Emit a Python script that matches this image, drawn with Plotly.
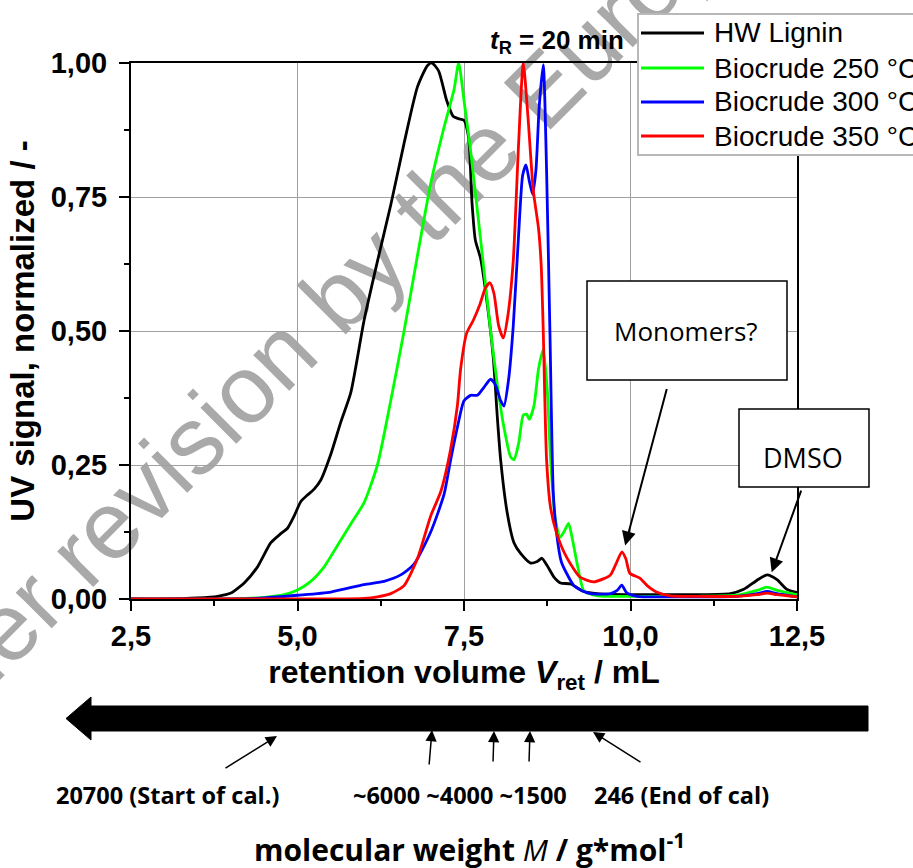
import plotly.graph_objects as go

# ---- GPC traces: retention volume (mL) vs. normalised UV signal ----
lignin_v = [2.5, 3.0, 3.5, 3.8, 4.0, 4.2, 4.4, 4.6, 4.75, 4.85, 4.95, 5.05, 5.15, 5.25, 5.35, 5.5,
            5.65, 5.8, 6.0, 6.2, 6.4, 6.6, 6.8, 6.95, 7.02, 7.12, 7.24, 7.34, 7.42, 7.5, 7.57, 7.62,
            7.67, 7.75, 7.85, 7.94, 8.0, 8.05, 8.15, 8.25, 8.35, 8.5, 8.6, 8.67, 8.75, 8.85, 8.95,
            9.1, 9.3, 9.5, 10.0, 10.5, 11.0, 11.5, 11.7, 11.9, 12.05, 12.2, 12.35, 12.5]
lignin_s = [0.0, 0.0, 0.002, 0.005, 0.011, 0.03, 0.06, 0.105, 0.122, 0.132, 0.155, 0.182, 0.194,
            0.205, 0.222, 0.27, 0.33, 0.385, 0.52, 0.63, 0.735, 0.85, 0.955, 0.995, 1.0, 0.985,
            0.93, 0.9, 0.896, 0.893, 0.86, 0.74, 0.67, 0.635, 0.55, 0.45, 0.34, 0.26, 0.16, 0.105,
            0.085, 0.067, 0.07, 0.076, 0.062, 0.041, 0.03, 0.028, 0.014, 0.01, 0.008, 0.008, 0.008,
            0.01, 0.018, 0.035, 0.045, 0.036, 0.018, 0.012]

bc250_v = [2.5, 4.0, 4.5, 4.8, 5.0, 5.2, 5.4, 5.6, 5.8, 6.0, 6.2, 6.4, 6.6, 6.8, 7.0, 7.2, 7.35,
           7.42, 7.5, 7.6, 7.75, 7.9, 8.0, 8.1, 8.2, 8.25, 8.32, 8.39, 8.44, 8.48, 8.55, 8.62, 8.69,
           8.75, 8.8, 8.87, 8.94, 9.0, 9.07, 9.13, 9.2, 9.3, 9.45, 9.6, 10.0, 11.0, 11.6, 11.9,
           12.05, 12.2, 12.5]
bc250_s = [0.0, 0.0, 0.003, 0.008, 0.017, 0.033, 0.06, 0.1, 0.14, 0.18, 0.25, 0.37, 0.5, 0.64,
           0.775, 0.88, 0.95, 1.0, 0.93, 0.835, 0.67, 0.5, 0.4, 0.32, 0.265, 0.26, 0.29, 0.343,
           0.345, 0.335, 0.36, 0.43, 0.465, 0.39, 0.26, 0.15, 0.115, 0.125, 0.141, 0.11, 0.065,
           0.015, 0.007, 0.005, 0.005, 0.005, 0.007, 0.016, 0.022, 0.016, 0.008]

bc300_v = [2.5, 4.0, 4.5, 5.0, 5.5, 6.0, 6.3, 6.55, 6.75, 7.0, 7.2, 7.3, 7.4, 7.5, 7.6, 7.7, 7.8,
           7.9, 7.97, 8.05, 8.1, 8.17, 8.24, 8.32, 8.38, 8.43, 8.48, 8.53, 8.58, 8.63, 8.69, 8.74,
           8.79, 8.84, 8.89, 8.96, 9.04, 9.15, 9.25, 9.4, 9.7, 9.8, 9.87, 9.94, 10.1, 10.5, 11.0,
           11.6, 11.9, 12.05, 12.2, 12.5]
bc300_s = [0.0, 0.0, 0.002, 0.007, 0.013, 0.027, 0.033, 0.045, 0.065, 0.125, 0.195, 0.26, 0.32,
           0.37, 0.38, 0.38, 0.395, 0.41, 0.4, 0.37, 0.36, 0.41, 0.51, 0.68, 0.79, 0.81, 0.78,
           0.755, 0.8, 0.92, 0.997, 0.8, 0.5, 0.2, 0.123, 0.07, 0.048, 0.025, 0.017, 0.01, 0.01,
           0.016, 0.026, 0.012, 0.005, 0.004, 0.004, 0.005, 0.01, 0.014, 0.01, 0.004]

bc350_v = [2.5, 5.5, 6.0, 6.2, 6.4, 6.6, 6.8, 7.0, 7.15, 7.3, 7.4, 7.45, 7.54, 7.64, 7.74, 7.82,
           7.89, 7.95, 8.02, 8.09, 8.16, 8.24, 8.32, 8.39, 8.46, 8.54, 8.62, 8.66, 8.69, 8.74, 8.8,
           8.89, 9.04, 9.24, 9.44, 9.6, 9.7, 9.78, 9.87, 9.93, 9.99, 10.14, 10.25, 10.39, 10.6,
           11.0, 11.6, 11.9, 12.05, 12.2, 12.5]
bc350_s = [0.0, 0.0, 0.001, 0.004, 0.01, 0.025, 0.075, 0.155, 0.2, 0.28, 0.36, 0.43, 0.496, 0.52,
           0.55, 0.58, 0.59, 0.57, 0.51, 0.487, 0.53, 0.632, 0.85, 1.0, 0.9, 0.763, 0.69, 0.62,
           0.5, 0.26, 0.17, 0.123, 0.078, 0.041, 0.032, 0.038, 0.045, 0.065, 0.088, 0.075, 0.048,
           0.039, 0.025, 0.013, 0.006, 0.005, 0.005, 0.008, 0.011, 0.008, 0.004]

series_names = ["HW Lignin", "Biocrude 250 °C", "Biocrude 300 °C", "Biocrude 350 °C"]
series_colors = ["#000000", "#00ff00", "#0000ff", "#ff0000"]
series_data = [(lignin_v, lignin_s), (bc250_v, bc250_s), (bc300_v, bc300_s), (bc350_v, bc350_s)]

# calibration markers on the molecular-weight scale below the chart
calibration_labels = ["20700 (Start of cal.)", "~6000 ~4000 ~1500", "246 (End of cal)"]

# ---- figure geometry (pixels) ----
W, H = 913, 868
L, R, T, B = 131, 797, 63, 599


def px(x):
    return (x - L) / (R - L)


def py(y):
    return (B - y) / (B - T)


AX_FONT = "Liberation Sans, Arial, sans-serif"
UI_FONT = "Open Sans, Noto Sans, sans-serif"

fig = go.Figure()
for name, (xv, yv), col in zip(series_names, series_data, series_colors):
    fig.add_trace(go.Scatter(x=xv, y=yv, mode="lines", name=name, showlegend=False,
                             line=dict(color=col, width=2.8, shape="spline", smoothing=0.6)))

axis_common = dict(
    showline=True, linewidth=2, linecolor="black", mirror=True,
    ticks="outside", ticklen=10, tickwidth=2, tickcolor="black",
    showgrid=True, gridcolor="#a0a0a0", gridwidth=1, zeroline=False,
    tickfont=dict(family=AX_FONT, size=29, color="black", weight="bold"),
)

fig.update_layout(
    width=W, height=H, autosize=False,
    margin=dict(l=L, r=W - R, t=T, b=H - B, pad=0),
    paper_bgcolor="white", plot_bgcolor="white",
    separators=",.",
    font=dict(family=AX_FONT, color="black"),
    xaxis=dict(range=[2.5, 12.5], tick0=2.5, dtick=2.5, tickformat=".1f",
               minor=dict(ticks="outside", ticklen=5, tickwidth=2, tickcolor="black",
                          tick0=2.5, dtick=1.25, showgrid=False),
               title=dict(text="retention volume <i>V</i><sub>ret</sub> / mL", standoff=10,
                          font=dict(family=AX_FONT, size=32, color="black", weight="bold")),
               **axis_common),
    yaxis=dict(range=[0, 1.0], tick0=0, dtick=0.25, tickformat=".2f", ticklabelstandoff=6,
               minor=dict(ticks="outside", ticklen=5, tickwidth=2, tickcolor="black",
                          tick0=0, dtick=0.125, showgrid=False),
               title=dict(text="UV signal, normalized / -", standoff=6,
                          font=dict(family=AX_FONT, size=33, color="black", weight="bold")),
               **axis_common),
)

shapes = []
# watermark text running diagonally behind the plot
shapes.append(dict(type="rect", xref="paper", yref="paper", layer="below",
                   x0=px(282), x1=px(382), y0=py(338), y1=py(238),
                   line=dict(width=0), fillcolor="rgba(0,0,0,0)",
                   label=dict(text="Under revision by the European", textangle=-45,
                              textposition="middle center",
                              font=dict(family=AX_FONT, size=96, color="rgba(140,140,140,0.75)"))))

# legend frame and line samples
shapes.append(dict(type="rect", xref="paper", yref="paper", layer="above",
                   x0=px(638), x1=px(930), y0=py(155), y1=py(14),
                   line=dict(color="#b8b8b8", width=2), fillcolor="white"))
legend_rows = [33, 68, 102, 136]
for yrow, col in zip(legend_rows, series_colors):
    shapes.append(dict(type="line", xref="paper", yref="paper", layer="above",
                       x0=px(641), x1=px(704), y0=py(yrow), y1=py(yrow),
                       line=dict(color=col, width=2.8)))

# label boxes
for (x0, y0, x1, y1) in [(587, 281, 787, 380), (739, 409, 869, 487)]:
    shapes.append(dict(type="rect", xref="paper", yref="paper", layer="above",
                       x0=px(x0), x1=px(x1), y0=py(y1), y1=py(y0),
                       line=dict(color="black", width=1.5), fillcolor="white"))

# thick arrow pointing towards higher molecular weight
tip_x, head_x, end_x = px(66), px(91), px(868)
mid_y, head_t, head_b, body_t, body_b = py(718.5), py(697), py(740), py(706), py(731)
arrow_path = (f"M {tip_x},{mid_y} L {head_x},{head_t} L {head_x},{body_t} L {end_x},{body_t} "
              f"L {end_x},{body_b} L {head_x},{body_b} L {head_x},{head_b} Z")
shapes.append(dict(type="path", xref="paper", yref="paper", layer="above", path=arrow_path,
                   fillcolor="black", line=dict(color="black", width=1)))
fig.update_layout(shapes=shapes)


def label(x, y, text, font, xanchor="center"):
    return dict(xref="paper", yref="paper", x=px(x), y=py(y), xanchor=xanchor, yanchor="middle",
                text=text, showarrow=False, font=font)


ann = []
ann.append(label(626, 42, "<i>t</i><sub>R</sub> = 20 min",
                 dict(family=AX_FONT, size=26, color="black", weight="bold"), xanchor="right"))
for yrow, name in zip(legend_rows, series_names):
    ann.append(label(712, yrow, name, dict(family=AX_FONT, size=28, color="black"), xanchor="left"))

ann.append(label(686, 331, "Monomers?", dict(family=UI_FONT, size=26, color="black")))
ann.append(label(803, 457, "DMSO", dict(family=UI_FONT, size=27, color="black")))

# pointers from the boxes to the peaks
ann.append(dict(x=9.92, y=0.10, xref="x", yref="y", ax=42, ay=-158, text="", showarrow=True,
                arrowhead=2, arrowsize=1.4, arrowwidth=2, arrowcolor="black", standoff=0))
ann.append(dict(x=12.12, y=0.05, xref="x", yref="y", ax=30, ay=-83, text="", showarrow=True,
                arrowhead=2, arrowsize=1.4, arrowwidth=2, arrowcolor="black", standoff=0))

# small arrows to the calibration positions on the thick arrow
for (tx, ty, sx, sy) in [(277, 736, 224, 769), (432, 730, 429, 766), (494, 731, 493, 763),
                         (530, 731, 529, 763), (593, 732, 642, 763)]:
    ann.append(dict(xref="paper", yref="paper", x=px(tx), y=py(ty), ax=sx - tx, ay=sy - ty,
                    text="", showarrow=True, arrowhead=2, arrowsize=1.5, arrowwidth=1.5,
                    arrowcolor="black", standoff=0))

for cx, txt in zip([167, 460, 681], calibration_labels):
    ann.append(label(cx, 795, txt, dict(family=UI_FONT, size=23.5, color="black", weight="bold")))

ann.append(label(469, 848,
                 "molecular weight <i><span style='font-weight:normal'>M</span></i> / g*mol<sup>-1</sup>",
                 dict(family=UI_FONT, size=30, color="black", weight="bold")))
fig.update_layout(annotations=ann)

fig.write_html("out.html")
